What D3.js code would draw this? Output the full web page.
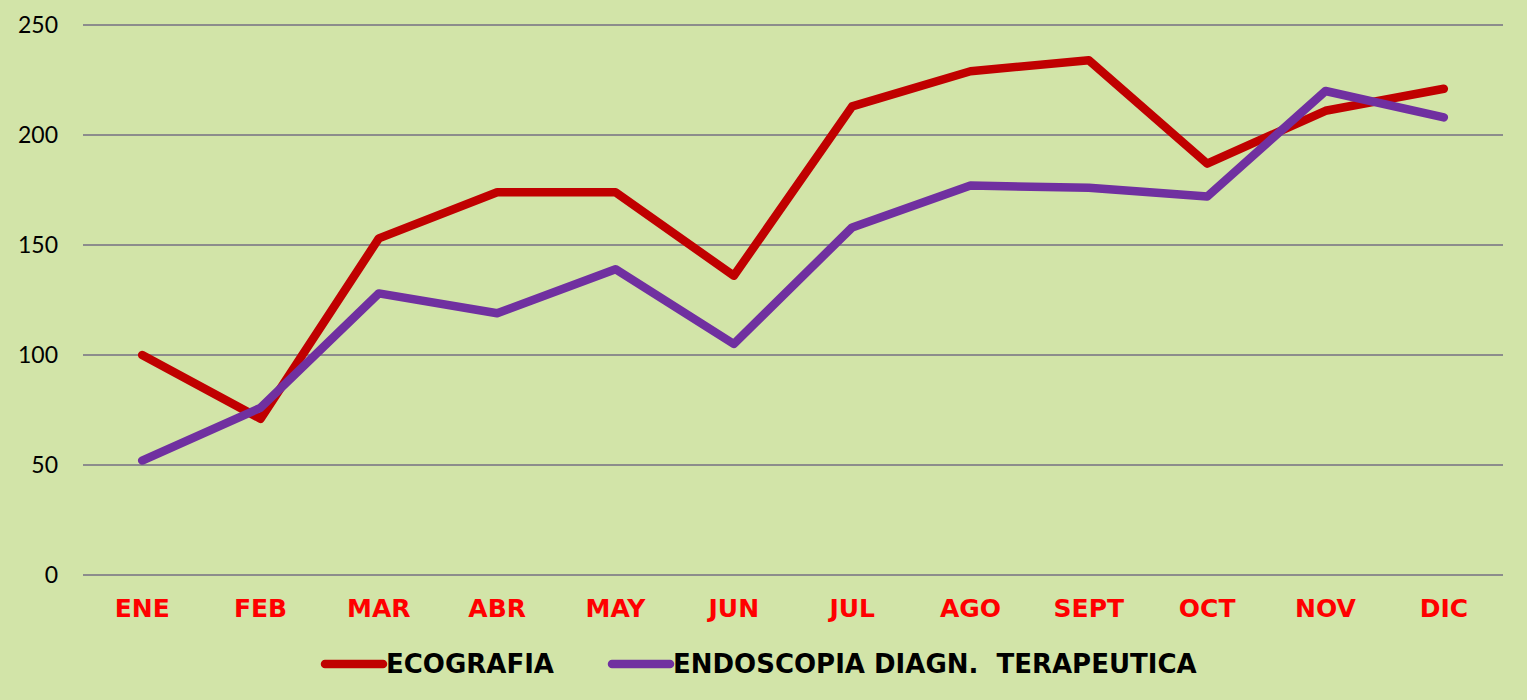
<!doctype html>
<html>
<head>
  <meta charset="utf-8">
  <script src="https://d3js.org/d3.v7.min.js"></script>
  <style>
    body { margin:0; background:#d2e4a8; }
    svg { display:block; font-family:Lato, sans-serif; }
    .grid line { stroke:#8c8c8c; stroke-width:2; }
    .ytick { font-size:23px; fill:#000; }
    .xtick { font-family:"DejaVu Sans", sans-serif; font-size:25px; font-weight:bold; fill:#ff0000; }
    .legend text { font-family:"DejaVu Sans", sans-serif; font-size:26px; font-weight:bold; fill:#000; }
  </style>
</head>
<body>
  <svg id="chart" width="1527" height="700"></svg>
  <script>
    const months = ["ENE","FEB","MAR","ABR","MAY","JUN","JUL","AGO","SEPT","OCT","NOV","DIC"];
    const ecografia = [100, 71, 153, 174, 174, 136, 213, 229, 234, 187, 211, 221];
    const endoscopia = [52, 76, 128, 119, 139, 105, 158, 177, 176, 172, 220, 208];
    const yTicks = [0, 50, 100, 150, 200, 250];
    const seriesNames = ["ECOGRAFIA", "ENDOSCOPIA DIAGN.  TERAPEUTICA"];
    const seriesColors = ["#c00000", "#7030a0"];

    const svg = d3.select("#chart");
    const plotL = 83, plotR = 1503, plotT = 25, plotB = 575;

    const x = d3.scalePoint().domain(months).range([plotL, plotR]).padding(0.5);
    const y = d3.scaleLinear().domain([0, 250]).range([plotB, plotT]);

    // gridlines
    svg.append("g").attr("class","grid")
      .selectAll("line").data(yTicks).join("line")
      .attr("x1", plotL).attr("x2", plotR)
      .attr("y1", d => y(d)).attr("y2", d => y(d));

    svg.append("g").selectAll("text").data(yTicks).join("text")
      .attr("class","ytick")
      .attr("x", 58).attr("y", d => y(d) + 8)
      .attr("text-anchor","end")
      .text(d => d);

    svg.append("g").selectAll("text").data(months).join("text")
      .attr("class","xtick")
      .attr("x", d => x(d)).attr("y", 617)
      .attr("text-anchor","middle")
      .text(d => d);

    const line = d3.line().x((d,i) => x(months[i])).y(d => y(d));
    [ecografia, endoscopia].forEach((vals, k) => {
      svg.append("path")
        .attr("d", line(vals))
        .attr("fill","none")
        .attr("stroke", seriesColors[k])
        .attr("stroke-width", 8.5)
        .attr("stroke-linecap","round")
        .attr("stroke-linejoin","round");
    });

    // legend
    const legX = [325, 612];
    const leg = svg.append("g").attr("class","legend");
    seriesNames.forEach((name, k) => {
      leg.append("line")
        .attr("x1", legX[k]).attr("x2", legX[k] + 58)
        .attr("y1", 664).attr("y2", 664)
        .attr("stroke", seriesColors[k]).attr("stroke-width", 8.5)
        .attr("stroke-linecap","round");
      leg.append("text")
        .attr("x", legX[k] + 61).attr("y", 673)
        .style("white-space","pre")
        .text(name);
    });
  </script>
</body>
</html>
